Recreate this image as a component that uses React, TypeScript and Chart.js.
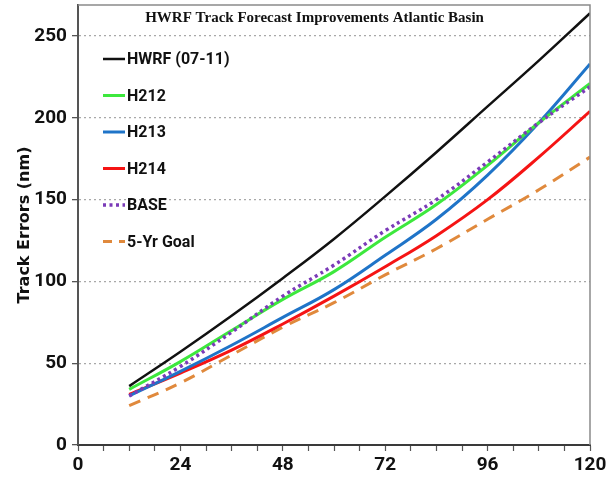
import { useEffect, useRef } from "react";
import { Chart, registerables } from "chart.js";

Chart.register(...registerables);

const chartTitle = "HWRF Track Forecast Improvements Atlantic Basin";
const yAxisTitle = "Track Errors (nm)";
const hours = [12, 24, 36, 48, 60, 72, 84, 96, 108, 120];
const hwrf0711 = [36, 57, 79, 102, 126, 152, 179, 207, 235, 264];
const h212 = [34, 51, 70, 89, 106, 127, 147, 171, 197, 221];
const h213 = [30, 45, 61, 78, 95, 116, 138, 165, 197, 233];
const h214 = [31, 44, 58, 74, 91, 109, 128, 150, 176, 204];
const base = [30, 48, 69, 91, 110, 131, 150, 173, 197, 219];
const goal5yr = [24, 38, 55, 72, 87, 104, 120, 138, 156, 176];
const seriesNames = ["HWRF (07-11)", "H212", "H213", "H214", "BASE", "5-Yr Goal"];
const yTickValues = [0, 50, 100, 150, 200, 250];
const xLabelEvery = 24;

const LABEL_FONT = "Roboto, 'Noto Sans', sans-serif";

const framePlugin = {
  id: "frame",
  afterDraw(chart: any) {
    const { ctx, chartArea: a } = chart;
    ctx.save();
    ctx.strokeStyle = "#8a8a8a";
    ctx.lineWidth = 1.5;
    ctx.beginPath();
    ctx.moveTo(a.left, a.top);
    ctx.lineTo(a.right, a.top);
    ctx.lineTo(a.right, a.bottom);
    ctx.stroke();
    ctx.restore();
  },
};

const titlePlugin = {
  id: "insideTitle",
  afterDraw(chart: any) {
    const { ctx, chartArea: a } = chart;
    ctx.save();
    ctx.font = "bold 15px 'Liberation Serif', 'DejaVu Serif', serif";
    ctx.fillStyle = "#111";
    ctx.textAlign = "center";
    ctx.textBaseline = "middle";
    ctx.fillText(chartTitle, a.left + (a.right - a.left) * 0.462, a.top + 13);
    ctx.restore();
  },
};

const legendPlugin = {
  id: "insideLegend",
  afterDraw(chart: any) {
    const { ctx, chartArea: a } = chart;
    ctx.save();
    ctx.font = `bold 16px ${LABEL_FONT}`;
    ctx.textBaseline = "middle";
    ctx.textAlign = "left";
    chart.data.datasets.forEach((ds: any, i: number) => {
      const y = a.top + 54 + i * 36.5;
      const x0 = a.left + 25;
      ctx.beginPath();
      ctx.strokeStyle = ds.borderColor;
      ctx.lineWidth = ds.borderWidth;
      ctx.setLineDash(ds.borderDash && ds.borderDash.length ? (i === 5 ? [9, 7] : ds.borderDash) : []);
      ctx.moveTo(x0, y);
      ctx.lineTo(x0 + 22, y);
      ctx.stroke();
      ctx.setLineDash([]);
      ctx.fillStyle = "#111";
      ctx.fillText(ds.label, x0 + 24, y + 1);
    });
    ctx.restore();
  },
};

export default function App() {
  const ref = useRef<HTMLCanvasElement | null>(null);
  useEffect(() => {
    document.body.style.margin = "0";
    if (!ref.current) return;
    const values = [hwrf0711, h212, h213, h214, base, goal5yr];
    const colors = ["#111111", "#3de83d", "#1f74c8", "#f51414", "#7b3bb8", "#e0893c"];
    const dashes: number[][] = [[], [], [], [], [3, 3.5], [12, 8]];
    const widths = [2.5, 3, 3, 3, 3.5, 3];
    const datasets = values.map((vals, i) => ({
      label: seriesNames[i],
      data: hours.map((h, k) => ({ x: h, y: vals[k] })),
      borderColor: colors[i],
      backgroundColor: colors[i],
      borderWidth: widths[i],
      borderDash: dashes[i],
      pointRadius: 0,
      tension: 0.4,
      fill: false,
      order: i === 4 ? -1 : i,
    }));
    const chart = new Chart(ref.current, {
      type: "line",
      data: { datasets },
      plugins: [framePlugin, titlePlugin, legendPlugin],
      options: {
        animation: false,
        responsive: true,
        maintainAspectRatio: false,
        layout: { padding: { top: 5, right: 23, left: 0, bottom: 0 } },
        plugins: { legend: { display: false }, title: { display: false }, tooltip: { enabled: false } },
        scales: {
          x: {
            type: "linear",
            min: 0,
            max: 120,
            afterFit: (s: any) => {
              s.height = 42;
            },
            ticks: {
              stepSize: 6,
              autoSkip: false,
              maxRotation: 0,
              padding: 3,
              color: "#111",
              font: { family: LABEL_FONT, size: 19, weight: "bold" },
              callback: (v: any) => (Number(v) % xLabelEvery === 0 ? String(v) : ""),
            },
            grid: { drawOnChartArea: false, drawTicks: true, tickLength: 6, tickColor: "#555", tickWidth: 1.2 },
            border: { display: true, color: "#3a3a3a", width: 2 },
          },
          y: {
            type: "linear",
            min: 0,
            max: 269,
            afterFit: (s: any) => {
              s.width = 78;
              s.paddingTop = 0;
            },
            afterBuildTicks: (s: any) => {
              s.ticks = yTickValues.map((v) => ({ value: v }));
            },
            ticks: {
              padding: 5,
              color: "#111",
              font: { family: LABEL_FONT, size: 19, weight: "bold" },
            },
            grid: {
              color: (c: any) => (c.tick && c.tick.value === 0 ? "rgba(0,0,0,0)" : "#a8a8a8"),
              lineWidth: 1.3,
              drawTicks: true,
              tickLength: 6,
              tickColor: "#555",
              tickBorderDash: [],
            },
            border: { display: true, color: "#555", width: 2, dash: [2, 3] },
            title: {
              display: true,
              text: yAxisTitle,
              color: "#111",
              font: { family: "'DejaVu Sans', sans-serif", size: 16, weight: "bold" },
              padding: { top: 15, bottom: 0 },
            },
          },
        },
      },
    });
    return () => chart.destroy();
  }, []);
  return (
    <div style={{ width: 613, height: 487, position: "relative" }}>
      <canvas ref={ref} />
    </div>
  );
}
